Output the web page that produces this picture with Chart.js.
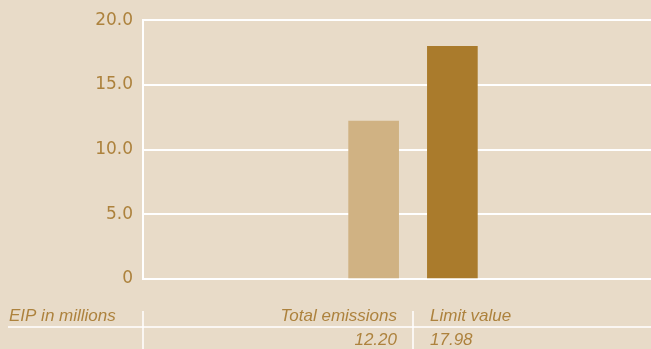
<!DOCTYPE html>
<html>
<head>
<meta charset="utf-8">
<script src="https://cdn.jsdelivr.net/npm/chart.js@4"></script>
<style>
  html, body { margin: 0; padding: 0; background: #E8DBC8; }
  #wrap { width: 651px; height: 349px; position: relative; }
</style>
</head>
<body>
<div id="wrap"><canvas id="emChart"></canvas></div>
<script>
// values (EIP in millions)
const categories = ['Total emissions', 'Limit value'];
const values = [12.20, 17.98];
const valueLabels = ['12.20', '17.98'];
const yTicks = [0, 5, 10, 15, 20];
const rowTitle = 'EIP in millions';

// where each column sits on the hidden 0-100 x scale
const barPos = [45.4, 60.9];
const barColors = ['#D0B283', '#AA7B2C'];
const textColor = '#AD823D';
const bg = '#E8DBC8';

// table under the plot: header row + value row
const tablePlugin = {
  id: 'tableRows',
  afterDraw(chart) {
    const { ctx, chartArea, scales: { x } } = chart;
    const W = chart.width;
    const left = chartArea.left;
    const mid = Math.round((x.getPixelForValue(barPos[0]) + x.getPixelForValue(barPos[1])) / 2);
    ctx.save();
    ctx.strokeStyle = '#ffffff';
    ctx.lineWidth = 1.5;
    ctx.beginPath();
    ctx.moveTo(8, 327); ctx.lineTo(W, 327);
    ctx.moveTo(left, 311); ctx.lineTo(left, 349);
    ctx.moveTo(mid, 311); ctx.lineTo(mid, 349);
    ctx.stroke();

    ctx.fillStyle = textColor;
    ctx.font = 'italic 17px "Liberation Sans", Arial, sans-serif';
    ctx.textBaseline = 'alphabetic';
    ctx.textAlign = 'left';
    ctx.fillText(rowTitle, 9, 321);
    ctx.textAlign = 'right';
    ctx.fillText(categories[0], mid - 16, 321);
    ctx.fillText(valueLabels[0], mid - 16, 345);
    ctx.textAlign = 'left';
    ctx.fillText(categories[1], mid + 17, 321);
    ctx.fillText(valueLabels[1], mid + 17, 345);
    ctx.restore();
  }
};

const bgPlugin = {
  id: 'bgFill',
  beforeDraw(chart) {
    const { ctx } = chart;
    ctx.save();
    ctx.fillStyle = bg;
    ctx.fillRect(0, 0, chart.width, chart.height);
    ctx.restore();
  }
};

new Chart(document.getElementById('emChart'), {
  type: 'bar',
  data: {
    datasets: [{
      data: values.map((v, i) => ({ x: barPos[i], y: v })),
      backgroundColor: barColors,
      borderWidth: 0,
      barThickness: 50
    }]
  },
  options: {
    responsive: true,
    maintainAspectRatio: false,
    animation: false,
    layout: { padding: { top: 20, bottom: 70, left: 0, right: 0 } },
    plugins: { legend: { display: false }, tooltip: { enabled: false } },
    scales: {
      x: {
        type: 'linear',
        min: 0,
        max: 100,
        offset: false,
        display: false
      },
      y: {
        min: 0,
        max: 20,
        afterFit(scale) { scale.width = 143; },
        afterBuildTicks(scale) { scale.ticks = yTicks.map(v => ({ value: v })); },
        border: { color: '#ffffff', width: 2 },
        grid: { color: '#ffffff', lineWidth: 2, drawTicks: false },
        ticks: {
          padding: 10,
          color: textColor,
          font: { family: '"DejaVu Sans", sans-serif', size: 17 },
          callback: v => v === 0 ? '0' : v.toFixed(1)
        }
      }
    }
  },
  plugins: [bgPlugin, tablePlugin]
});
</script>
</body>
</html>
